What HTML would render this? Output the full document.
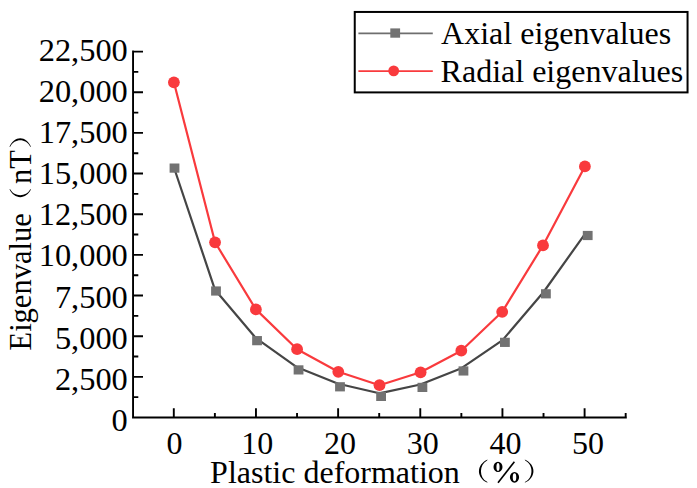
<!DOCTYPE html>
<html><head><meta charset="utf-8"><style>
html,body{margin:0;padding:0;background:#fff;overflow:hidden;}
svg{display:block;}
text{font-family:'Liberation Serif',serif;fill:#000;}
</style></head><body>
<svg width="697" height="488" viewBox="0 0 697 488">
<rect width="697" height="488" fill="#fff"/>

<path d="M173.80,167.00 L215.00,289.80 L256.00,338.20 L297.10,367.30 L338.20,383.80 L379.30,393.30 L420.40,384.50 L461.50,368.20 L502.60,340.10 L543.60,292.00 L584.70,234.30" fill="none" stroke="#454545" stroke-width="2.2" stroke-linejoin="round"/>
<path d="M173.90,82.30 L215.05,242.30 L255.90,309.40 L297.10,349.20 L338.30,371.80 L379.50,385.20 L420.60,372.30 L461.30,350.70 L502.20,311.80 L543.00,245.40 L584.90,166.40" fill="none" stroke="#f93a3d" stroke-width="2.2" stroke-linejoin="round"/>
<rect x="169.60" y="163.50" width="9.8" height="9.2" fill="#727272"/>
<rect x="211.10" y="286.40" width="9.8" height="9.2" fill="#727272"/>
<rect x="252.15" y="336.05" width="9.8" height="9.2" fill="#727272"/>
<rect x="293.65" y="365.30" width="9.8" height="9.2" fill="#727272"/>
<rect x="335.10" y="382.20" width="9.8" height="9.2" fill="#727272"/>
<rect x="376.20" y="391.80" width="9.8" height="9.2" fill="#727272"/>
<rect x="417.50" y="382.80" width="9.8" height="9.2" fill="#727272"/>
<rect x="458.55" y="366.35" width="9.8" height="9.2" fill="#727272"/>
<rect x="500.00" y="337.75" width="9.8" height="9.2" fill="#727272"/>
<rect x="541.00" y="289.20" width="9.8" height="9.2" fill="#727272"/>
<rect x="582.80" y="230.90" width="9.8" height="9.2" fill="#727272"/>
<circle cx="173.90" cy="82.30" r="5.9" fill="#f93a3d"/>
<circle cx="215.05" cy="242.30" r="5.9" fill="#f93a3d"/>
<circle cx="255.90" cy="309.40" r="5.9" fill="#f93a3d"/>
<circle cx="297.10" cy="349.20" r="5.9" fill="#f93a3d"/>
<circle cx="338.30" cy="371.80" r="5.9" fill="#f93a3d"/>
<circle cx="379.50" cy="385.20" r="5.9" fill="#f93a3d"/>
<circle cx="420.60" cy="372.30" r="5.9" fill="#f93a3d"/>
<circle cx="461.30" cy="350.70" r="5.9" fill="#f93a3d"/>
<circle cx="502.20" cy="311.80" r="5.9" fill="#f93a3d"/>
<circle cx="543.00" cy="245.40" r="5.9" fill="#f93a3d"/>
<circle cx="584.90" cy="166.40" r="5.9" fill="#f93a3d"/>
<path d="M133.05,50.6 V418.5 M132.05,417.5 H626.8 M133,417.50 H143 M133,397.17 H138.3 M133,376.84 H143 M133,356.52 H138.3 M133,336.19 H143 M133,315.86 H138.3 M133,295.53 H143 M133,275.20 H138.3 M133,254.88 H143 M133,234.55 H138.3 M133,214.22 H143 M133,193.89 H138.3 M133,173.56 H143 M133,153.24 H138.3 M133,132.91 H143 M133,112.58 H138.3 M133,92.25 H143 M133,71.92 H138.3 M133,51.60 H143 M173.80,417.5 V408.2 M255.96,417.5 V408.2 M338.12,417.5 V408.2 M420.28,417.5 V408.2 M502.44,417.5 V408.2 M584.60,417.5 V408.2 M214.88,417.5 V413 M297.04,417.5 V413 M379.20,417.5 V413 M461.36,417.5 V413 M543.52,417.5 V413 M625.68,417.5 V413" fill="none" stroke="#000" stroke-width="1.9"/>
<text x="127.8" y="430.65" font-size="32.4" text-anchor="end">0</text>
<text x="127.8" y="389.60" font-size="32.4" text-anchor="end">2,500</text>
<text x="127.8" y="348.55" font-size="32.4" text-anchor="end">5,000</text>
<text x="127.8" y="307.50" font-size="32.4" text-anchor="end">7,500</text>
<text x="127.8" y="266.45" font-size="32.4" text-anchor="end">10,000</text>
<text x="127.8" y="225.40" font-size="32.4" text-anchor="end">12,500</text>
<text x="127.8" y="184.35" font-size="32.4" text-anchor="end">15,000</text>
<text x="127.8" y="143.30" font-size="32.4" text-anchor="end">17,500</text>
<text x="127.8" y="102.25" font-size="32.4" text-anchor="end">20,000</text>
<text x="127.8" y="61.20" font-size="32.4" text-anchor="end">22,500</text>
<text x="174.60" y="454.0" font-size="32" text-anchor="middle">0</text>
<text x="257.30" y="454.0" font-size="32" text-anchor="middle">10</text>
<text x="340.00" y="454.0" font-size="32" text-anchor="middle">20</text>
<text x="422.70" y="454.0" font-size="32" text-anchor="middle">30</text>
<text x="505.40" y="454.0" font-size="32" text-anchor="middle">40</text>
<text x="588.10" y="454.0" font-size="32" text-anchor="middle">50</text>
<text x="210.1" y="483.0" font-size="32">Plastic deformation</text>
<path d="M487.60,459.40 C476.13,464.55 476.13,477.65 487.60,482.80 L487.10,481.80 C478.93,477.65 478.93,464.55 487.10,460.40Z" fill="#000"/>
<path d="M524.70,459.40 C536.43,464.55 536.43,477.65 524.70,482.80 L525.20,481.80 C533.63,477.65 533.63,464.55 525.20,460.40Z" fill="#000"/>
<path d="M493.50,466.90 a4.5,5.15 0 1,0 9.0,0 a4.5,5.15 0 1,0 -9.0,0 Z M496.45,466.90 a1.55,3.9 0 1,0 3.1,0 a1.55,3.9 0 1,0 -3.1,0 Z M509.90,477.35 a4.6,5.3 0 1,0 9.2,0 a4.6,5.3 0 1,0 -9.2,0 Z M512.75,477.35 a1.75,4.0 0 1,0 3.5,0 a1.75,4.0 0 1,0 -3.5,0 Z" fill="#000" fill-rule="evenodd"/>
<path d="M498.0,482.7 L514.4,461.7" stroke="#000" stroke-width="1.6"/>
<g transform="translate(31.0,350.5) rotate(-90)">
<text x="0" y="0" font-size="30.5">Eigenvalue</text>
<text x="166.6" y="0" font-size="30.5">nT</text>
<path d="M161.40,-21.60 C150.60,-16.83 150.60,-4.67 161.40,0.10 L160.90,-0.90 C153.40,-4.67 153.40,-16.83 160.90,-20.60Z" fill="#000"/>
<path d="M203.50,-21.60 C215.23,-16.83 215.23,-4.67 203.50,0.10 L204.00,-0.90 C212.43,-4.67 212.43,-16.83 204.00,-20.60Z" fill="#000"/>
</g>
<rect x="354.75" y="11.95" width="332.8" height="80.45" fill="none" stroke="#000" stroke-width="2"/>
<path d="M358.4,33.3 H432.8" stroke="#6e6e6e" stroke-width="1.8"/>
<rect x="390.3" y="28.4" width="9.8" height="9.3" fill="#727272"/>
<path d="M358.4,71.2 H432.8" stroke="#f93a3d" stroke-width="1.8"/>
<circle cx="393.7" cy="70.9" r="5.4" fill="#f93a3d"/>
<text x="441.1" y="43.9" font-size="32">Axial eigenvalues</text>
<text x="440.6" y="81.5" font-size="32">Radial eigenvalues</text>
</svg></body></html>
